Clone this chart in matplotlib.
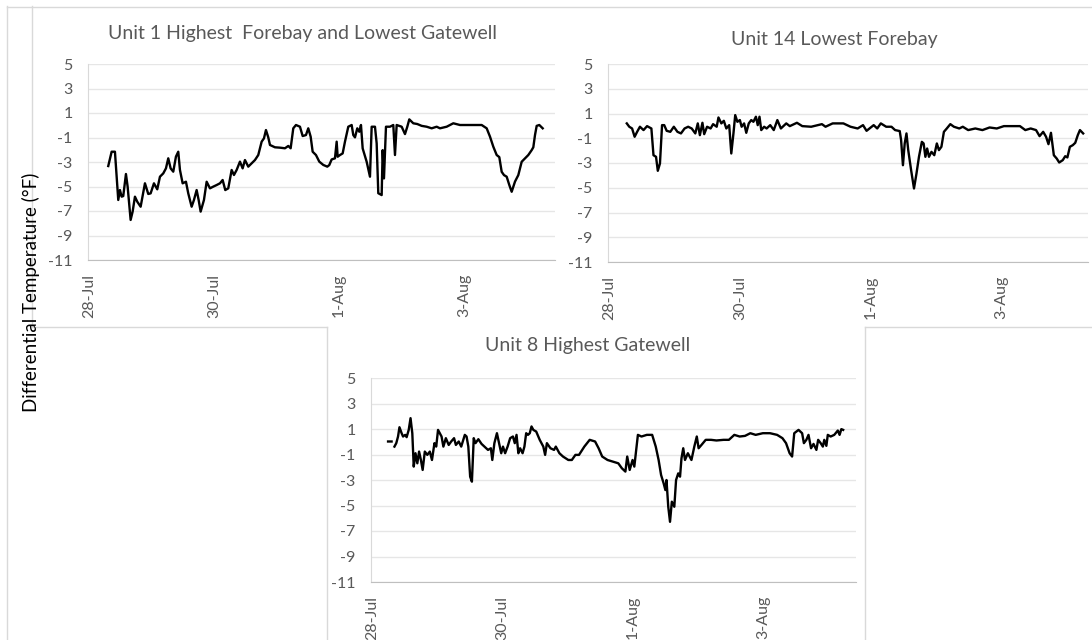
import numpy as np
import pandas as pd
import matplotlib
matplotlib.use("Agg")
import matplotlib.pyplot as plt
import matplotlib.dates as mdates
from matplotlib.lines import Line2D

plt.rcParams['font.family'] = ['Lato', 'DejaVu Sans']
plt.rcParams['axes.unicode_minus'] = False

# days after 28-Jul 00:00, differential temperature (F)
unit1_days = [0.309, 0.363, 0.416, 0.469, 0.496, 0.523, 0.549, 0.592, 0.619, 0.667, 0.699, 0.736,
              0.773, 0.827, 0.896, 0.949, 0.987, 1.040, 1.093, 1.136, 1.189, 1.232, 1.269, 1.307,
              1.349, 1.392, 1.429, 1.456, 1.499, 1.552, 1.589, 1.643, 1.680, 1.723, 1.755, 1.787,
              1.840, 1.883, 1.936, 1.989, 2.043, 2.096, 2.139, 2.181, 2.229, 2.283, 2.320, 2.363,
              2.416, 2.459, 2.496, 2.549, 2.603, 2.656, 2.709, 2.763, 2.800, 2.832, 2.869, 2.896,
              2.976, 3.056, 3.136, 3.189, 3.227, 3.269, 3.312, 3.376, 3.419, 3.472, 3.509, 3.547,
              3.579, 3.632, 3.685, 3.749, 3.813, 3.845, 3.883, 3.936, 3.963, 3.979, 4.016, 4.059,
              4.096, 4.149, 4.203, 4.229, 4.256, 4.293, 4.325, 4.352, 4.379, 4.443, 4.496, 4.523,
              4.576, 4.603, 4.629, 4.683, 4.699, 4.720, 4.752, 4.816, 4.869, 4.896, 4.923, 5.003,
              5.056, 5.093, 5.125, 5.189, 5.253, 5.323, 5.403, 5.483, 5.563, 5.616, 5.723, 5.829,
              5.936, 6.043, 6.149, 6.283, 6.363, 6.416, 6.469, 6.523, 6.565, 6.603, 6.640, 6.683,
              6.725, 6.763, 6.816, 6.869, 6.923, 6.960, 7.029, 7.083, 7.109, 7.136, 7.163, 7.205,
              7.259]
unit1_vals = [-3.33, -2.16, -2.16, -6.10, -5.29, -5.83, -5.78, -3.98, -5.01, -7.73, -7.05, -5.83,
              -6.24, -6.65, -4.74, -5.61, -5.56, -4.74, -5.23, -4.20, -3.93, -3.52, -2.70, -3.52,
              -3.79, -2.56, -2.16, -3.65, -4.74, -4.61, -5.56, -6.65, -6.10, -5.29, -6.10, -7.05,
              -6.10, -4.61, -5.15, -5.01, -4.88, -4.74, -4.47, -5.29, -5.15, -3.65, -4.06, -3.65,
              -2.97, -3.52, -2.84, -3.38, -3.11, -2.84, -2.43, -1.34, -1.07, -0.39, -0.99, -1.61,
              -1.80, -1.83, -1.88, -1.69, -1.88, -0.25, 0.02, -0.12, -0.88, -0.80, -0.25, -0.93,
              -2.16, -2.43, -2.97, -3.24, -3.38, -3.25, -2.79, -2.70, -1.34, -2.57, -2.43, -2.30,
              -1.34, -0.12, 0.02, -0.80, -0.99, -0.25, -0.53, 0.02, -1.89, -2.98, -4.20, -0.12,
              -0.12, -1.48, -5.55, -5.70, -2.03, -4.34, -0.12, -0.12, 0.02, -2.43, 0.02, -0.12,
              -0.72, -0.12, 0.48, 0.16, 0.10, -0.05, -0.12, -0.25, -0.12, -0.25, -0.12, 0.16,
              0.02, 0.02, 0.02, 0.02, -0.25, -0.93, -1.75, -2.43, -2.60, -3.80, -4.07, -4.20,
              -4.88, -5.43, -4.60, -4.07, -2.98, -2.79, -2.43, -2.03, -1.80, -0.80, -0.05, 0.02,
              -0.25]

unit14_days = [0.272, 0.310, 0.353, 0.392, 0.430, 0.473, 0.528, 0.582, 0.648, 0.680, 0.719, 0.746,
               0.779, 0.811, 0.844, 0.882, 0.937, 0.991, 1.046, 1.100, 1.155, 1.210, 1.264, 1.319,
               1.357, 1.389, 1.428, 1.455, 1.499, 1.553, 1.591, 1.646, 1.673, 1.717, 1.755, 1.793,
               1.837, 1.869, 1.902, 1.929, 1.962, 2.000, 2.027, 2.065, 2.098, 2.136, 2.174, 2.207,
               2.245, 2.273, 2.300, 2.327, 2.371, 2.409, 2.464, 2.518, 2.573, 2.627, 2.709, 2.763,
               2.872, 2.954, 3.090, 3.254, 3.309, 3.418, 3.582, 3.691, 3.800, 3.882, 3.936, 4.045,
               4.099, 4.154, 4.236, 4.317, 4.372, 4.443, 4.464, 4.492, 4.519, 4.546, 4.573, 4.617,
               4.661, 4.699, 4.737, 4.781, 4.808, 4.835, 4.862, 4.890, 4.928, 4.971, 5.010, 5.042,
               5.080, 5.118, 5.162, 5.216, 5.271, 5.353, 5.407, 5.489, 5.598, 5.707, 5.816, 5.926,
               6.035, 6.144, 6.280, 6.362, 6.444, 6.526, 6.580, 6.635, 6.679, 6.716, 6.754, 6.798,
               6.842, 6.880, 6.934, 6.972, 7.005, 7.043, 7.087, 7.125, 7.164, 7.197, 7.246]
unit14_vals = [0.20, -0.07, -0.21, -0.88, -0.48, -0.07, -0.34, -0.02, -0.21, -2.37, -2.50, -3.63,
               -3.04, 0.06, 0.06, -0.40, -0.48, -0.07, -0.48, -0.61, -0.21, -0.07, -0.21, -0.61,
               0.20, -0.75, 0.25, -0.67, -0.07, -0.21, 0.14, -0.07, 0.68, 0.20, 0.41, -0.21,
               0.06, -2.23, -0.61, 0.87, 0.33, 0.47, -0.07, 0.20, -0.56, 0.20, 0.47, 0.33,
               0.74, 0.06, 0.74, -0.34, -0.07, -0.21, 0.06, -0.34, 0.47, -0.21, 0.20, -0.02,
               0.25, -0.02, -0.07, 0.14, -0.07, 0.20, 0.20, -0.07, -0.21, 0.06, -0.40, 0.06,
               -0.21, 0.20, -0.07, -0.07, -0.34, -0.42, -1.15, -3.18, -1.42, -0.61, -1.96, -3.58,
               -5.06, -3.85, -2.50, -1.29, -1.42, -2.50, -1.83, -2.50, -2.10, -2.37, -1.42, -1.96,
               -1.69, -0.48, -0.21, 0.14, -0.07, -0.21, -0.07, -0.34, -0.21, -0.34, -0.13, -0.21,
               -0.02, -0.02, -0.02, -0.34, -0.21, -0.34, -0.83, -0.48, -0.88, -1.48, -0.56, -2.37,
               -2.64, -2.96, -2.77, -2.45, -2.55, -1.69, -1.56, -1.37, -0.75, -0.34, -0.61]

unit8_days = [0.247, 0.301, np.nan, 0.345, 0.373, 0.400, 0.422, 0.455, 0.477, 0.510, 0.532, 0.564,
              0.592, 0.619, 0.641, 0.668, 0.696, 0.723, 0.751, 0.778, 0.811, 0.849, 0.888, 0.921,
              0.959, 0.986, 1.014, 1.068, 1.096, 1.134, 1.178, 1.216, 1.260, 1.288, 1.332, 1.370,
              1.425, 1.452, 1.479, 1.507, 1.534, 1.562, 1.589, 1.633, 1.682, 1.726, 1.781, 1.825,
              1.847, 1.879, 1.918, 1.945, 1.984, 2.011, 2.044, 2.082, 2.121, 2.164, 2.192, 2.219,
              2.247, 2.274, 2.312, 2.340, 2.367, 2.395, 2.422, 2.449, 2.477, 2.521, 2.575, 2.630,
              2.658, 2.685, 2.740, 2.795, 2.822, 2.877, 2.932, 3.014, 3.068, 3.123, 3.178, 3.260,
              3.342, 3.425, 3.479, 3.534, 3.616, 3.699, 3.781, 3.836, 3.890, 3.918, 3.956, 4.000,
              4.027, 4.082, 4.137, 4.219, 4.301, 4.356, 4.400, 4.438, 4.477, 4.504, 4.521, 4.548,
              4.575, 4.603, 4.641, 4.668, 4.701, 4.729, 4.751, 4.778, 4.805, 4.849, 4.904, 4.948,
              4.986, 5.014, 5.058, 5.123, 5.205, 5.288, 5.397, 5.479, 5.562, 5.644, 5.726, 5.808,
              5.890, 6.000, 6.110, 6.219, 6.301, 6.356, 6.411, 6.449, 6.482, 6.548, 6.603, 6.630,
              6.668, 6.701, 6.740, 6.778, 6.822, 6.849, 6.888, 6.921, 6.943, 6.975, 6.997, 7.041,
              7.096, 7.151, 7.178, 7.205, 7.233]
unit8_vals = [0.02, 0.02, np.nan, -0.38, -0.11, 0.41, 1.14, 0.67, 0.41, 0.54, 0.36, 0.93,
              1.85, 0.67, -1.95, -0.90, -1.69, -0.77, -1.43, -2.21, -0.77, -1.03, -0.77, -1.43,
              -0.11, -0.38, 0.93, 0.41, -0.38, 0.28, -0.25, 0.02, 0.28, -0.25, 0.02, -0.38,
              0.54, 0.41, -0.38, -2.74, -3.13, 0.28, -0.11, 0.20, -0.17, -0.38, -0.64, -0.51,
              -1.43, -0.11, 0.67, 0.02, -0.90, -0.38, -0.90, -0.38, 0.28, 0.41, -0.11, 0.54,
              -0.90, -0.51, -0.90, -0.38, 0.67, 0.54, 0.67, 1.20, 0.93, 0.80, 0.15, -0.38,
              -1.03, -0.11, -0.51, -0.64, -0.38, -0.90, -1.16, -1.43, -1.43, -1.03, -1.03, -0.38,
              0.15, 0.02, -0.51, -1.16, -1.43, -1.56, -1.69, -2.08, -2.34, -1.16, -2.21, -1.43,
              -1.95, 0.54, 0.41, 0.54, 0.54, -0.38, -1.43, -2.61, -3.26, -3.79, -3.00, -5.10,
              -6.28, -4.70, -5.10, -3.00, -2.48, -2.74, -1.30, -0.51, -1.43, -0.90, -1.43, -0.38,
              0.41, -0.51, -0.25, 0.15, 0.15, 0.10, 0.15, 0.15, 0.54, 0.41, 0.46, 0.67,
              0.54, 0.67, 0.67, 0.54, 0.28, -0.11, -0.90, -1.16, 0.67, 0.93, 0.67, -0.11,
              0.15, 0.54, -0.51, -0.17, -0.64, 0.15, -0.11, -0.38, 0.15, -0.32, 0.54, 0.41,
              0.54, 0.88, 0.54, 0.99, 0.93]

start = mdates.date2num(pd.Timestamp('2016-07-28'))
tick_dates = mdates.date2num(pd.to_datetime(['2016-07-28', '2016-07-30', '2016-08-01', '2016-08-03']))
tick_labels = ['28-Jul', '30-Jul', '1-Aug', '3-Aug']
y_ticks = list(range(-11, 6, 2))

W, H = 1092, 640
fig = plt.figure(figsize=(W / 100, H / 100), dpi=100)
grey_txt = '#595959'


def px_line(x0, y0, x1, y1):
    fig.add_artist(Line2D([x0 / W, x1 / W], [1 - y0 / H, 1 - y1 / H],
                          transform=fig.transFigure, color='#d9d9d9', lw=1.0))


# chart frames
px_line(7, 6, 7, 640)
px_line(7, 6.5, 1092, 6.5)
px_line(32, 6, 32, 327)
px_line(32, 327, 327, 327)
px_line(327, 327, 327, 640)
px_line(865, 327, 865, 640)
px_line(865, 327, 1092, 327)


def panel(rect, days, vals, title, title_xy, xmax):
    l, t, r, b = rect
    ax = fig.add_axes([l / W, 1 - b / H, (r - l) / W, (b - t) / H])
    x = start + np.array(days, dtype=float)
    ax.plot(x, vals, color='black', lw=1.7, solid_joinstyle='round')
    ax.set_ylim(-11, 5)
    ax.set_yticks(y_ticks)
    ax.set_xlim(start - 0.015, start + xmax)
    ax.set_xticks(tick_dates)
    ax.set_xticklabels(tick_labels, rotation=90)
    ax.grid(axis='y', color='#e6e6e6', lw=1.0)
    ax.set_axisbelow(True)
    for s in ['top', 'right']:
        ax.spines[s].set_visible(False)
    ax.spines['left'].set_color('#d9d9d9')
    ax.spines['bottom'].set_color('#bfbfbf')
    ax.tick_params(length=0, labelsize=11.5, labelcolor=grey_txt)
    ax.tick_params(axis='y', pad=11)
    ax.tick_params(axis='x', pad=10)
    fig.text(title_xy[0] / W, 1 - title_xy[1] / H, title, ha='center', va='center',
             fontsize=14, color=grey_txt)
    return ax


panel((88, 64, 555, 260), unit1_days, unit1_vals,
      'Unit 1 Highest  Forebay and Lowest Gatewell', (302, 33), 7.456)
panel((608, 64, 1088, 262), unit14_days, unit14_vals,
      'Unit 14 Lowest Forebay', (834, 40), 7.32)
panel((371, 378, 856, 582), unit8_days, unit8_vals,
      'Unit 8 Highest Gatewell', (588, 345), 7.43)

fig.text(31 / W, 1 - 292 / H, 'Differential Temperature (°F)', rotation=90,
         ha='center', va='center', fontsize=13.5, color='black')

fig.savefig('out.png', dpi=100)
